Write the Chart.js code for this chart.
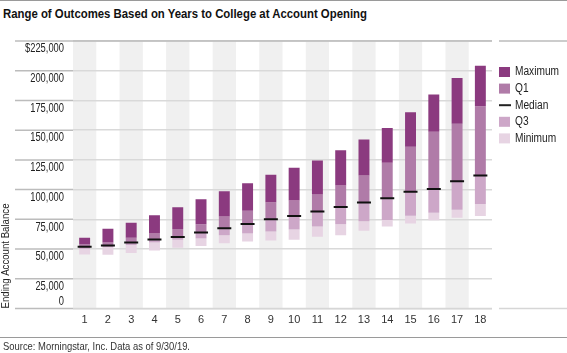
<!DOCTYPE html>
<html>
<head>
<meta charset="utf-8">
<script src="https://cdn.jsdelivr.net/npm/chart.js@4.4.1/dist/chart.umd.min.js"></script>
<style>
  html, body { margin: 0; padding: 0; background: #fff; }
  #wrap {
    position: relative; width: 567px; height: 353px; overflow: hidden;
    font-family: 'Liberation Sans', Arial, sans-serif;
    border-top: 1px solid #9a9a9a; box-sizing: border-box;
  }
  #title { position: absolute; left: 3px; top: 5px; font-weight: bold; font-size: 13.5px; color: #111;
           white-space: nowrap; transform-origin: 0 0; }
  #rule { position: absolute; left: 0; top: 336px; width: 567px; border-top: 1px solid #9a9a9a; }
  #source { position: absolute; left: 3px; top: 339px; font-size: 11px; color: #333; white-space: nowrap;
            transform-origin: 0 0; }
  canvas { position: absolute; left: 0; top: -1px; }
</style>
</head>
<body>
<div id="wrap">
  <div id="title">Range of Outcomes Based on Years to College at Account Opening</div>
  <canvas id="chart" width="567" height="353"></canvas>
  <div id="rule"></div>
  <div id="source">Source: Morningstar, Inc. Data as of 9/30/19.</div>
</div>
<script>
// Years to college at account opening
const years = ['1','2','3','4','5','6','7','8','9','10','11','12','13','14','15','16','17','18'];

// Ending account balance
const minimum = [45500, 45200, 46600, 48800, 51100, 52500, 54900, 56300, 57200, 57800, 60300, 61600, 65500, 68900, 71400, 74200, 76400, 77900];
const q3      = [50300, 51700, 53400, 55500, 57800, 58900, 61600, 63000, 64700, 66400, 68900, 70800, 73300, 74500, 78100, 80600, 83100, 88000];
const median  = [52000, 53000, 55500, 58100, 60100, 63900, 67500, 71100, 75000, 77700, 81500, 85300, 89200, 92700, 98100, 100600, 107000, 111900];
const q1      = [54200, 55500, 59500, 63100, 66800, 70900, 77300, 82300, 89400, 90800, 95800, 103400, 111900, 122500, 136000, 148600, 155300, 170200];
const maximum = [59500, 67000, 72100, 78500, 85200, 91900, 98600, 105300, 112400, 118300, 124500, 133200, 142100, 151900, 165000, 180000, 193900, 204100];

const yTicks = [0, 25000, 50000, 75000, 100000, 125000, 150000, 175000, 200000, 225000];

const colors = {
  max: '#8b3a7f',
  q1: '#b07ba8',
  q3: '#cda7c8',
  min: '#e7d4e3',
  median: '#111111'
};

const FONT = "'Liberation Sans', Arial, sans-serif";

// the original uses a condensed face; squeeze a regular one to the same widths
const meas = document.createElement('canvas').getContext('2d');
function squeeze(font, str, target) {
  meas.font = font;
  return Math.min(1, target / meas.measureText(str).width);
}
function fitEl(id, target) {
  const el = document.getElementById(id);
  const w = el.getBoundingClientRect().width;
  el.style.transform = 'scaleX(' + Math.min(1, target / w) + ')';
}
fitEl('title', 364);
fitEl('source', 187);

const yFont = '12px ' + FONT;
const legFont = '12.5px ' + FONT;
const axFont = '11.5px ' + FONT;
const sxY = squeeze(yFont, '$225,000', 39);
const sxLeg = squeeze(legFont, 'Maximum', 44);
const sxAx = squeeze(axFont, 'Ending Account Balance', 105);

function squeezedText(ctx, str, x, y, sx, align) {
  ctx.save();
  ctx.translate(x, y);
  ctx.scale(sx, 1);
  ctx.textAlign = align;
  ctx.fillText(str, 0, 0);
  ctx.restore();
}

const range = (lo, hi) => lo.map((v, i) => [v, hi[i]]);

const barOpts = { grouped: false, barPercentage: 0.47, categoryPercentage: 1, borderWidth: 0, order: 1 };

// gray bands behind odd years
const bandsPlugin = {
  id: 'bands',
  beforeDraw(chart) {
    const ctx = chart.ctx;
    const x = chart.scales.x;
    const area = chart.chartArea;
    const half = (x.getPixelForValue(1) - x.getPixelForValue(0)) / 2;
    ctx.save();
    ctx.fillStyle = '#f0f0f0';
    for (let i = 0; i < years.length; i += 2) {
      const cx = x.getPixelForValue(i);
      ctx.fillRect(cx - half, area.top, half * 2, area.bottom - area.top);
    }
    ctx.restore();
  }
};

// y labels, grid extensions, axis title, legend
const decorPlugin = {
  id: 'decor',
  afterDraw(chart) {
    const ctx = chart.ctx;
    const y = chart.scales.y;
    const area = chart.chartArea;
    ctx.save();

    // grid extension into label area
    ctx.lineWidth = 1.5;
    ctx.strokeStyle = '#bcbcbc';
    yTicks.forEach(v => {
      const py = y.getPixelForValue(v);
      ctx.beginPath();
      ctx.moveTo(15, py);
      ctx.lineTo(area.left, py);
      ctx.stroke();
    });
    // top and bottom rules continue under legend
    [yTicks[0], yTicks[yTicks.length - 1]].forEach(v => {
      const py = y.getPixelForValue(v);
      ctx.strokeStyle = v === 0 ? '#d6d6d6' : '#bcbcbc';
      ctx.beginPath();
      ctx.moveTo(area.left, py);
      ctx.lineTo(area.right, py);
      ctx.moveTo(area.right + 7, py);
      ctx.lineTo(567, py);
      ctx.stroke();
    });

    // tick labels
    ctx.font = yFont;
    ctx.fillStyle = '#222';
    ctx.textBaseline = 'middle';
    yTicks.forEach(v => {
      const py = y.getPixelForValue(v);
      const txt = v === 225000 ? '$' + v.toLocaleString('en-US') : v.toLocaleString('en-US');
      squeezedText(ctx, txt, 64, v === 0 ? py - 7 : py + 8, sxY, 'right');
    });

    // axis title
    ctx.save();
    ctx.translate(6, 256);
    ctx.rotate(-Math.PI / 2);
    ctx.font = axFont;
    squeezedText(ctx, 'Ending Account Balance', 0, 0, sxAx, 'center');
    ctx.restore();

    // legend
    const items = [
      { label: 'Maximum', color: colors.max },
      { label: 'Q1', color: colors.q1 },
      { label: 'Median', line: true },
      { label: 'Q3', color: colors.q3 },
      { label: 'Minimum', color: colors.min }
    ];
    ctx.font = legFont;
    items.forEach((it, i) => {
      const cy = 72 + i * 16.6;
      if (it.line) {
        ctx.strokeStyle = '#222';
        ctx.lineWidth = 2;
        ctx.beginPath();
        ctx.moveTo(499, cy);
        ctx.lineTo(511, cy);
        ctx.stroke();
      } else {
        ctx.fillStyle = it.color;
        ctx.fillRect(499, cy - 5, 11, 10);
      }
      ctx.fillStyle = '#222';
      squeezedText(ctx, it.label, 515, cy, sxLeg, 'left');
    });

    ctx.restore();
  }
};

new Chart(document.getElementById('chart'), {
  type: 'bar',
  plugins: [bandsPlugin, decorPlugin],
  data: {
    labels: years,
    datasets: [
      { label: 'Maximum', data: range(q1, maximum), backgroundColor: colors.max, ...barOpts },
      { label: 'Q1', data: range(median, q1), backgroundColor: colors.q1, ...barOpts },
      { label: 'Q3', data: range(q3, median), backgroundColor: colors.q3, ...barOpts },
      { label: 'Minimum', data: range(minimum, q3), backgroundColor: colors.min, ...barOpts },
      {
        label: 'Median',
        type: 'line',
        data: median,
        showLine: false,
        pointStyle: 'line',
        pointRadius: 7,
        pointBorderWidth: 2,
        pointBorderColor: colors.median,
        borderColor: colors.median,
        order: 0
      }
    ]
  },
  options: {
    responsive: false,
    animation: false,
    events: [],
    layout: { padding: { left: 73, right: 75, top: 41, bottom: 26.5 } },
    plugins: {
      legend: { display: false },
      tooltip: { enabled: false }
    },
    scales: {
      x: {
        border: { display: false },
        grid: { display: false, drawTicks: false },
        ticks: { color: '#333', font: { family: FONT, size: 11 }, padding: 5, maxRotation: 0 },
        afterFit(scale) { scale.height = 18; }
      },
      y: {
        min: 0,
        max: 225000,
        border: { display: false },
        ticks: { display: false, stepSize: 25000 },
        grid: { color: '#d9d9d9', lineWidth: 1.5, drawTicks: false }
      }
    }
  }
});
</script>
</body>
</html>
